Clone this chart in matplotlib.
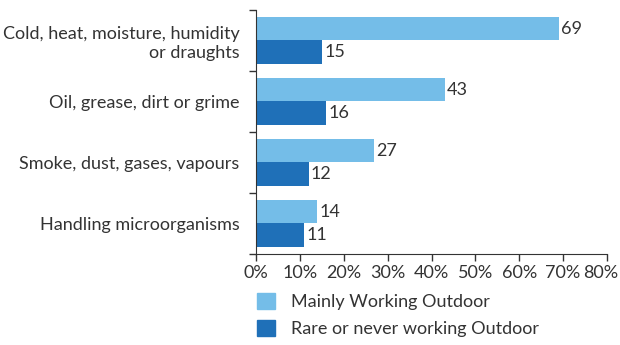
import matplotlib.pyplot as plt
import matplotlib.patches as mpatches
import matplotlib.transforms as mtransforms
import numpy as np

plt.rcParams['font.family'] = ['Lato', 'DejaVu Sans']

# data
categories = ['Cold, heat, moisture, humidity\nor draughts',
              'Oil, grease, dirt or grime',
              'Smoke, dust, gases, vapours',
              'Handling microorganisms']
outdoor = [69, 43, 27, 14]
rarely = [15, 16, 12, 11]
series_names = ['Mainly Working Outdoor', 'Rare or never working Outdoor']
xticks = [0, 10, 20, 30, 40, 50, 60, 70, 80]

c_light = '#74bde8'
c_dark = '#1f70b8'
txt = '#333333'
fs = 13

fig = plt.figure(figsize=(6.2, 3.45), dpi=100)
ax = fig.add_axes([0.413, 0.264, 0.566, 0.707])

y = np.arange(len(categories))[::-1]
h = 0.38
ax.barh(y + h / 2, outdoor, height=h, color=c_light)
ax.barh(y - h / 2, rarely, height=h, color=c_dark)

for yi, v in zip(y, outdoor):
    ax.text(v + 0.5, yi + h / 2, str(v), va='center', ha='left', fontsize=fs, color=txt)
for yi, v in zip(y, rarely):
    ax.text(v + 0.5, yi - h / 2, str(v), va='center', ha='left', fontsize=fs, color=txt)

ax.set_xlim(0, 80)
ax.set_ylim(-0.5, len(categories) - 0.5)
ax.set_xticks(xticks)
ax.set_xticklabels([f'{t}%' for t in xticks], fontsize=fs, color=txt)
ax.set_yticks(y)
ax.set_yticklabels(categories, fontsize=fs, color=txt, linespacing=1.25)
ax.tick_params(axis='y', length=0, pad=12)
ax.set_yticks(np.arange(-0.5, len(categories)), minor=True)
ax.tick_params(axis='y', which='minor', length=5, color=txt, width=1)
ax.tick_params(axis='x', length=5, color=txt, width=1, pad=3)
for s in ['top', 'right']:
    ax.spines[s].set_visible(False)
for s in ['left', 'bottom']:
    ax.spines[s].set_color(txt)

# last tick label sits a bit left so it stays inside the figure
last = ax.get_xticklabels()[-1]
last.set_transform(last.get_transform() + mtransforms.ScaledTranslation(-0.06, 0, fig.dpi_scale_trans))

handles = [mpatches.Patch(color=c_light), mpatches.Patch(color=c_dark)]
fig.legend(handles, series_names, loc='upper left', bbox_to_anchor=(0.415, 0.152),
           frameon=False, fontsize=fs, labelcolor=txt, handlelength=1.0, handleheight=1.0,
           handletextpad=0.85, labelspacing=0.55, borderaxespad=0, borderpad=0)

fig.savefig('out.png', dpi=100)
